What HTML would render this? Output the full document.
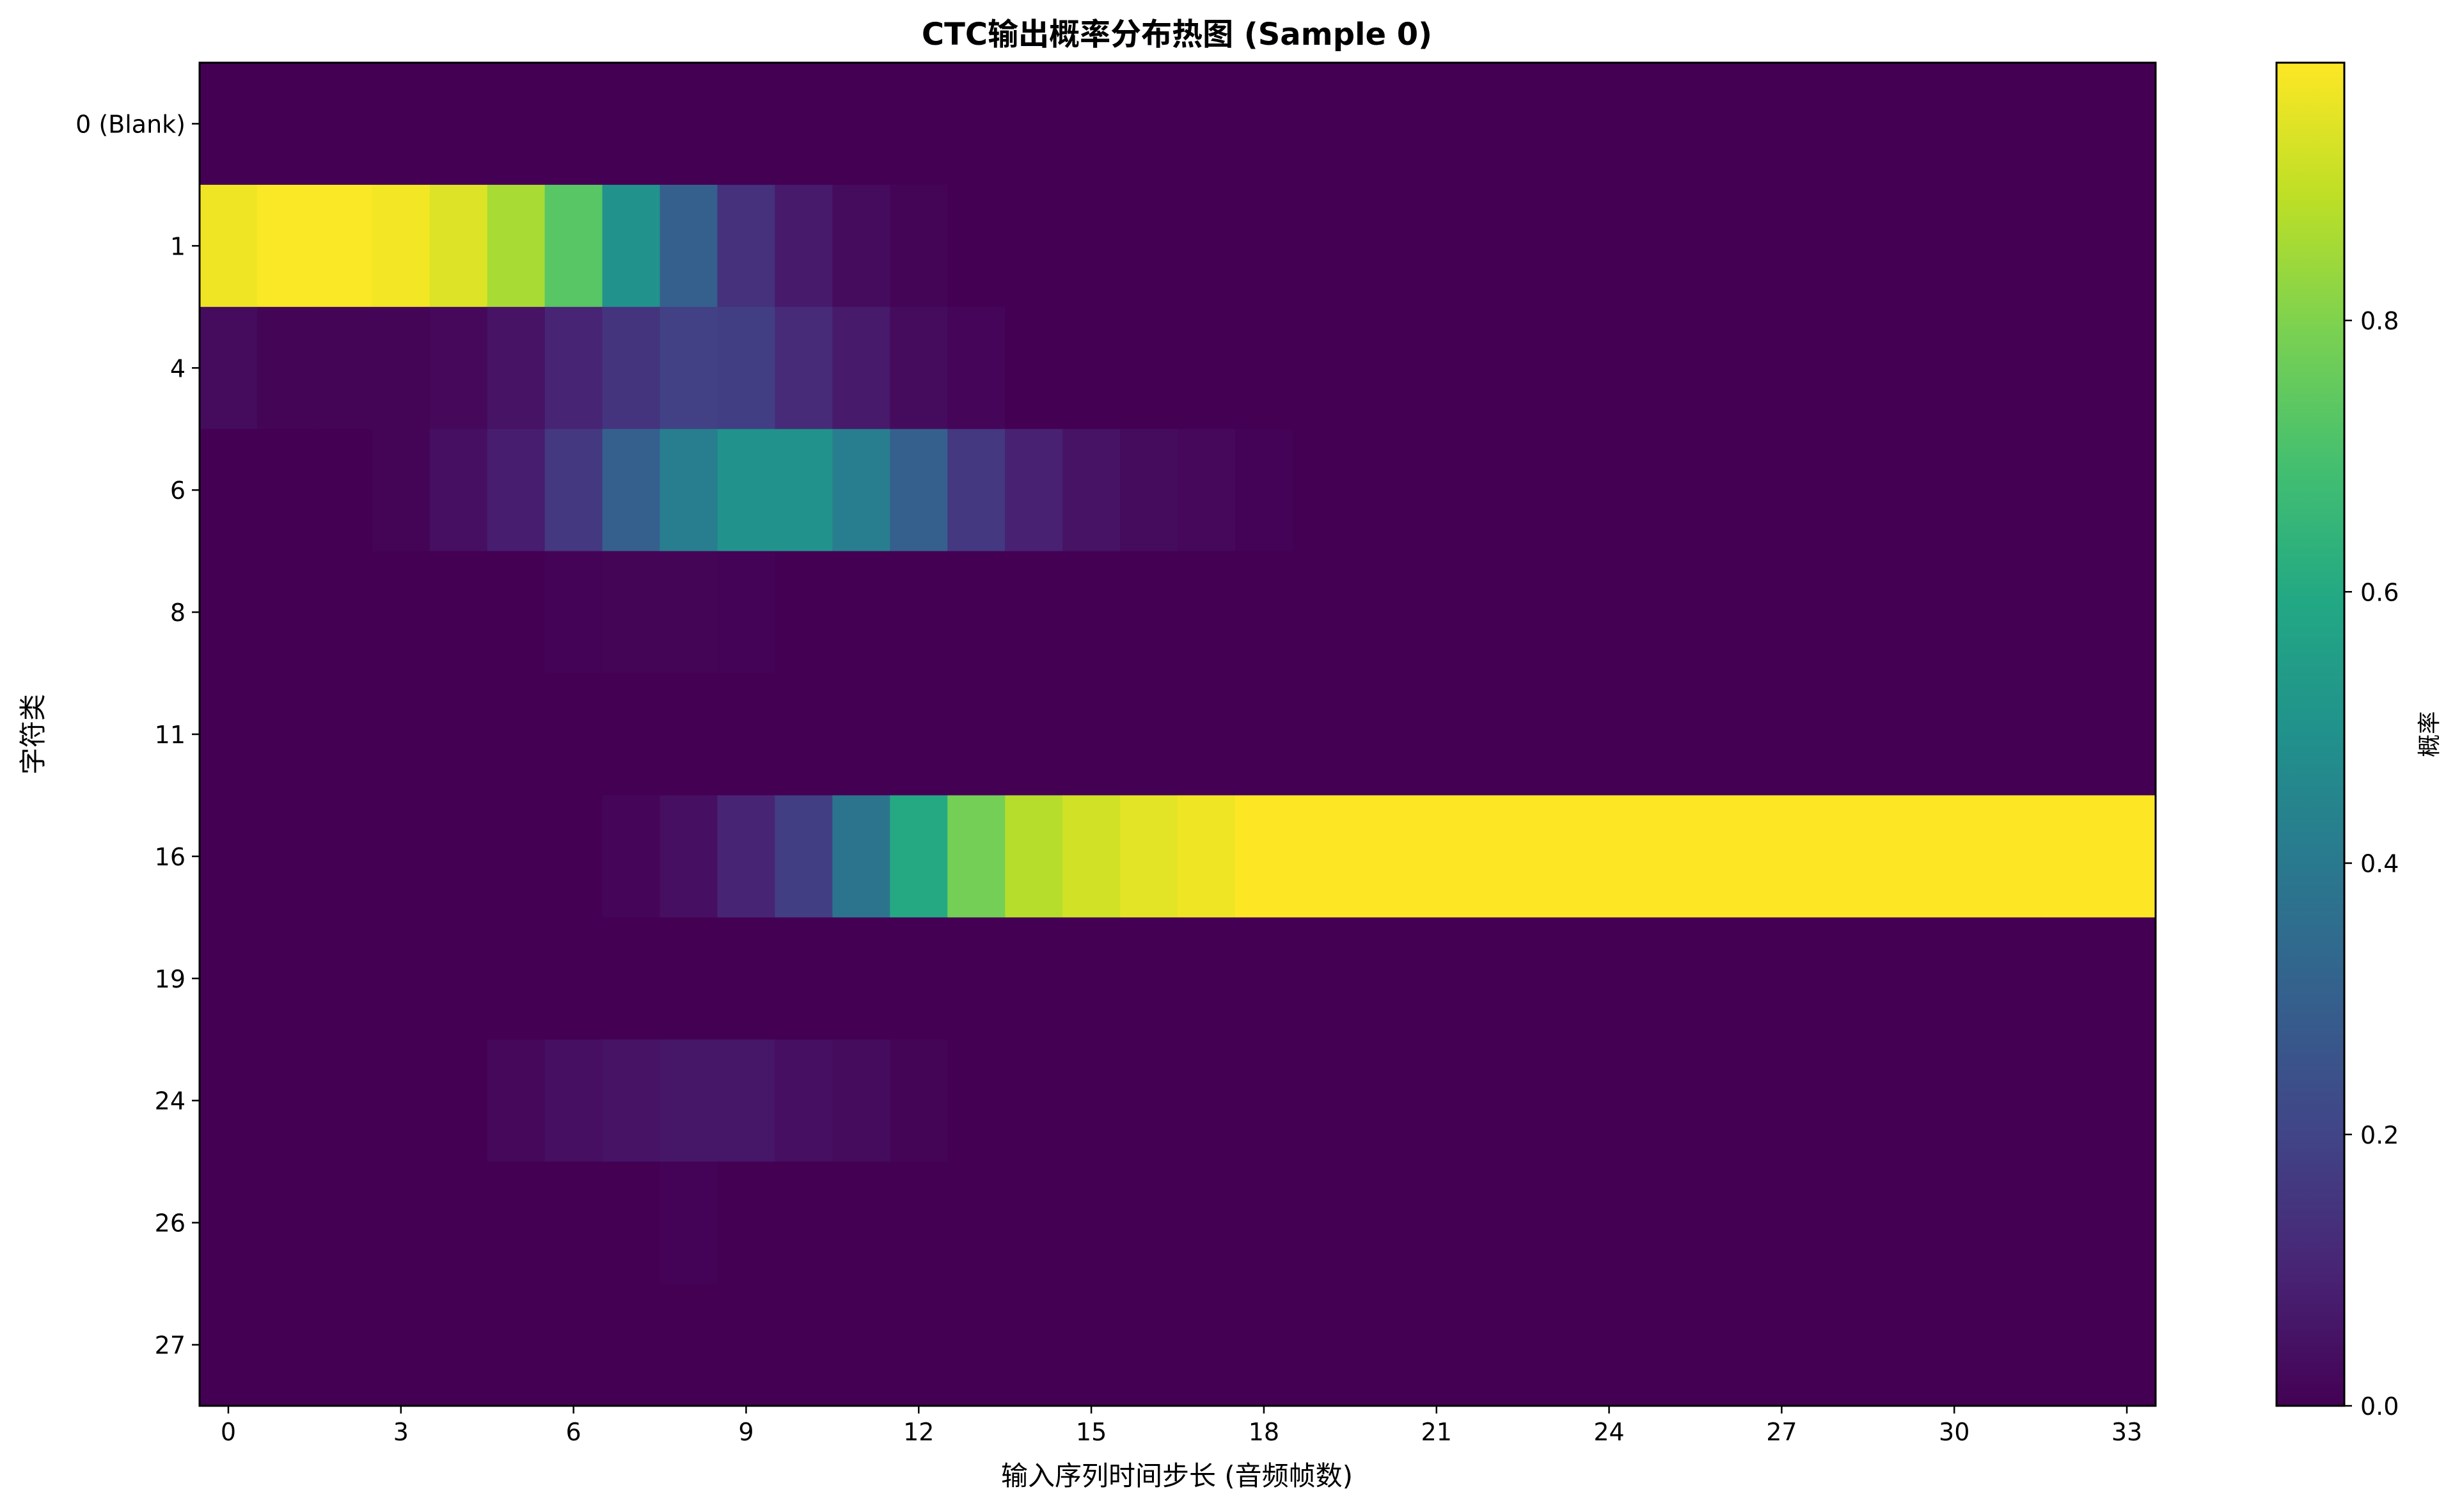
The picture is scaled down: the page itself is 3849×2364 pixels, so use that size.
<!DOCTYPE html>
<html><head><meta charset="utf-8"><style>
html,body{margin:0;padding:0;background:#fff;}
svg{display:block;font-family:"DejaVu Sans","Liberation Sans","Noto Sans CJK SC",sans-serif;}
</style></head><body>
<svg id="chart" width="3849" height="2364" viewBox="0 0 3849 2364" xmlns="http://www.w3.org/2000/svg">
<defs>
<linearGradient id="vir" x1="0" y1="1" x2="0" y2="0">
<stop offset="0" stop-color="#440154"/><stop offset="0.1" stop-color="#482475"/><stop offset="0.2" stop-color="#414487"/><stop offset="0.3" stop-color="#355f8d"/><stop offset="0.4" stop-color="#2a788e"/><stop offset="0.5" stop-color="#21918c"/><stop offset="0.6" stop-color="#22a884"/><stop offset="0.7" stop-color="#44bf70"/><stop offset="0.8" stop-color="#7ad151"/><stop offset="0.9" stop-color="#bddf26"/><stop offset="1" stop-color="#fde725"/>
</linearGradient>
</defs>
<text x="1840" y="70" text-anchor="middle" font-size="48" font-weight="bold">CTC输出概率分布热图 (Sample 0)</text>
<g id="cells"></g>
<rect x="312" y="98" width="3058" height="2100" fill="none" stroke="#000" stroke-width="3"/>
<g id="xt"></g>
<g id="yt"></g>
<text x="1840" y="2322" text-anchor="middle" font-size="42">输入序列时间步长 (音频帧数)</text>
<text transform="translate(66,1148) rotate(-90)" text-anchor="middle" font-size="42">字符类</text>
<rect x="3559" y="98" width="106" height="2100" fill="url(#vir)" stroke="#000" stroke-width="3"/>
<g id="ct"></g>
<text transform="translate(3810,1148) rotate(-90)" text-anchor="middle" font-size="36">概率</text>
</svg>
<script>
const rowLabels = ["0 (Blank)","1","4","6","8","11","16","19","24","26","27"];
const xTickLabels = [0,3,6,9,12,15,18,21,24,27,30,33];
const cbTicks = [0,0.2,0.4,0.6,0.8];
const nSteps = 34;
const vMax = 0.99;
const rowBlank = [];
const row1 = [0.97,0.985,0.985,0.975,0.94,0.86,0.73,0.5,0.3,0.14,0.07,0.03,0.01];
const row4 = [0.03,0.01,0.01,0.01,0.02,0.05,0.1,0.15,0.19,0.18,0.12,0.07,0.03,0.015];
const row6 = [0,0,0,0.01,0.04,0.08,0.16,0.3,0.42,0.5,0.5,0.42,0.3,0.16,0.09,0.05,0.03,0.02,0.005];
const row8 = [0,0,0,0,0,0,0.006,0.01,0.01,0.006];
const row11 = [];
const row16 = [0,0,0,0,0,0,0,0.015,0.04,0.1,0.18,0.38,0.6,0.78,0.88,0.92,0.95,0.97,0.99,0.99,0.99,0.99,0.99,0.99,0.99,0.99,0.99,0.99,0.99,0.99,0.99,0.99,0.99,0.99];
const row19 = [];
const row24 = [0,0,0,0,0,0.02,0.04,0.05,0.06,0.06,0.04,0.03,0.01];
const row26 = [0,0,0,0,0,0,0,0,0.005];
const row27 = [];
const rows = [rowBlank,row1,row4,row6,row8,row11,row16,row19,row24,row26,row27];

const L=312,T=98,W=3058,H=2100;
const cw=W/nSteps, rh=H/rowLabels.length;
function xPos(t){return L+t*cw;}
function yPos(r){return T+r*rh;}
function cbY(v){return T+H-(v/vMax)*H;}
const vir=[[68,1,84],[72,36,117],[65,68,135],[53,95,141],[42,120,142],[33,145,140],[34,168,132],[68,191,112],[122,209,81],[189,223,38],[253,231,37]];
function color(v){let f=Math.max(0,Math.min(1,v/vMax))*10;let i=Math.min(9,Math.floor(f));let u=f-i;
 const a=vir[i],b=vir[i+1];return `rgb(${a.map((c,k)=>Math.round(c+(b[k]-c)*u)).join(',')})`;}
const NS="http://www.w3.org/2000/svg";
const cells=document.getElementById('cells');
rows.forEach((row,r)=>{for(let t=0;t<nSteps;t++){const v=row[t]||0;
 const el=document.createElementNS(NS,'rect');
 el.setAttribute('x',xPos(t));el.setAttribute('y',yPos(r));
 el.setAttribute('width',cw+0.6);el.setAttribute('height',rh+0.6);
 el.setAttribute('fill',color(v));
 
 
 cells.appendChild(el);}});
const xt=document.getElementById('xt');
xTickLabels.forEach(t=>{const x=xPos(t+0.5);
 const l=document.createElementNS(NS,'line');l.setAttribute('x1',x);l.setAttribute('x2',x);l.setAttribute('y1',T+H);l.setAttribute('y2',T+H+12);l.setAttribute('stroke','#000');l.setAttribute('stroke-width','2.5');
 
 
 xt.appendChild(l);
 const s=document.createElementNS(NS,'text');s.setAttribute('x',x);s.setAttribute('y',T+H+54);s.setAttribute('text-anchor','middle');s.setAttribute('font-size','38');s.textContent=t;
 
 
 xt.appendChild(s);});
const yt=document.getElementById('yt');
rowLabels.forEach((lab,r)=>{const y=yPos(r+0.5);
 const l=document.createElementNS(NS,'line');l.setAttribute('x1',L-12);l.setAttribute('x2',L);l.setAttribute('y1',y);l.setAttribute('y2',y);l.setAttribute('stroke','#000');l.setAttribute('stroke-width','2.5');
 
 
 yt.appendChild(l);
 const s=document.createElementNS(NS,'text');s.setAttribute('x',L-22);s.setAttribute('y',y+14);s.setAttribute('text-anchor','end');s.setAttribute('font-size','38');s.textContent=lab;
 
 
 yt.appendChild(s);});
const ct=document.getElementById('ct');
cbTicks.forEach(v=>{const y=cbY(v);
 const l=document.createElementNS(NS,'line');l.setAttribute('x1',3665);l.setAttribute('x2',3677);l.setAttribute('y1',y);l.setAttribute('y2',y);l.setAttribute('stroke','#000');l.setAttribute('stroke-width','2.5');
 
 
 ct.appendChild(l);
 const s=document.createElementNS(NS,'text');s.setAttribute('x',3690);s.setAttribute('y',y+14);s.setAttribute('font-size','38');s.textContent=v.toFixed(1);
 
 
 ct.appendChild(s);});
</script>
</body></html>
